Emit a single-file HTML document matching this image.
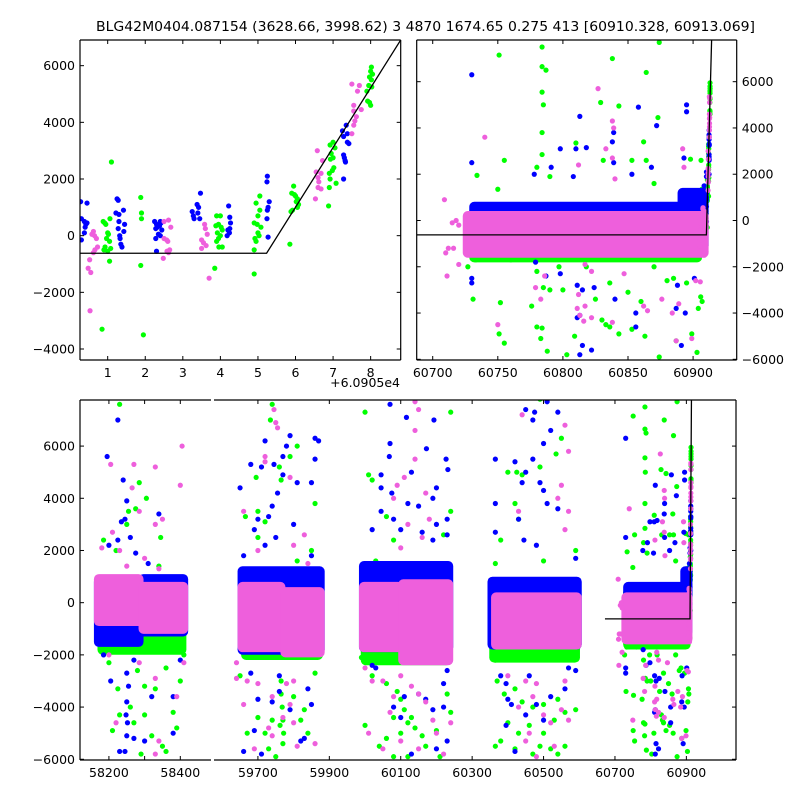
<!DOCTYPE html>
<html><head><meta charset="utf-8"><style>
html,body{margin:0;padding:0;background:#fff;}
svg{display:block;font-family:"DejaVu Sans","Liberation Sans",sans-serif;}
</style></head><body>
<svg id="chart" width="800" height="800" viewBox="0 0 800 800" xmlns="http://www.w3.org/2000/svg">
<rect width="800" height="800" fill="#fff"/>
<text x="96" y="31" font-size="13" textLength="659" lengthAdjust="spacingAndGlyphs">BLG42M0404.087154 (3628.66, 3998.62)   3 4870 1674.65 0.275 413 [60910.328, 60913.069]</text>
</svg>
<script>
// ---- data ----
var T0 = 60905;
var peakGreen = [[0.88,500],[0.92,450],[0.95,400],[1.0,100],[1.02,50],[0.97,-100],[1.05,-200],[0.93,-400],[1.08,-450],[0.9,-500],[1.0,-550],[1.05,-900],[1.06,600],[1.1,2600],[0.85,-3300],[1.88,1350],[1.9,800],[1.9,600],[1.88,-1050],[1.95,-3500],[3.9,700],[4.0,700],[3.95,400],[3.88,350],[4.05,200],[3.92,100],[4.0,0],[3.95,-100],[3.9,-200],[3.96,-400],[4.05,-400],[4.02,300],[3.85,-1150],[5.05,1400],[4.95,1150],[5.05,900],[5.0,700],[4.9,450],[4.98,400],[5.08,300],[5.0,100],[5.03,0],[4.92,-100],[4.95,-200],[4.9,-500],[4.9,-1350],[5.95,1750],[5.9,1500],[5.97,1450],[6.0,1400],[6.05,1300],[6.02,1200],[6.08,1100],[6.05,1000],[5.92,900],[5.88,850],[5.85,-300],[7.0,3300],[6.92,3200],[7.05,3100],[6.95,2900],[7.0,2750],[6.93,2700],[7.02,2400],[6.98,2300],[6.9,2200],[6.92,2000],[7.08,1850],[6.9,1700],[6.88,1050],[8.02,5950],[8.0,5800],[8.05,5700],[7.97,5600],[8.02,5500],[7.95,5300],[8.03,5250],[7.9,5100],[7.92,4750],[7.97,4700],[8.0,4600]];
var peakBlue = [[0.28,1200],[0.45,1150],[0.3,600],[0.38,500],[0.42,400],[0.4,300],[0.38,100],[0.3,-150],[0.45,450],[1.25,1300],[1.28,1250],[1.22,800],[1.3,750],[1.3,500],[1.28,250],[1.32,0],[1.33,-100],[1.35,-300],[1.38,-400],[1.42,900],[1.45,400],[1.43,150],[2.25,500],[2.3,400],[2.32,300],[2.28,250],[2.35,50],[2.28,-100],[2.3,-550],[2.4,500],[2.42,450],[2.38,350],[2.44,200],[2.4,0],[3.25,850],[3.28,700],[3.3,600],[3.38,1100],[3.42,1000],[3.4,800],[3.45,600],[3.47,1500],[4.22,1050],[4.25,650],[4.27,450],[4.25,250],[4.2,200],[4.18,0],[4.24,100],[5.25,2100],[5.24,1900],[5.3,1200],[5.27,1000],[5.25,900],[5.24,600],[5.27,-50],[7.35,3900],[7.25,3700],[7.38,3600],[7.28,3500],[7.38,3300],[7.42,3250],[7.28,2850],[7.3,2750],[7.32,2650],[7.33,2600],[7.28,2000]];
var peakPink = [[0.62,150],[0.58,50],[0.65,0],[0.7,-100],[0.73,-400],[0.66,-500],[0.62,-600],[0.52,-850],[0.48,-1150],[0.55,-1300],[0.53,-2650],[2.62,550],[2.5,500],[2.68,300],[2.5,-100],[2.57,-150],[2.6,-200],[2.65,-500],[2.58,-550],[2.62,-600],[2.48,-800],[3.58,400],[3.6,250],[3.65,50],[3.5,-150],[3.55,-250],[3.62,-350],[3.5,-450],[3.7,-1500],[6.58,3000],[6.72,2650],[6.55,2250],[6.68,2200],[6.6,2050],[6.62,1900],[6.6,1700],[6.68,1650],[6.53,1300],[7.5,5350],[7.7,5300],[7.65,5100],[7.55,4600],[7.75,4450],[7.55,4400],[7.62,4200],[7.58,4050],[7.55,3900],[7.5,3600]];

var outGreen = [[58230,7600],[58285,4600],[58255,3500],[58250,3000],[58275,3600],[58305,4000],[58185,2400],[58345,2500],[58340,1400],[58220,2000],[58200,-2300],[58280,-2600],[58300,-3200],[58330,-3300],[58260,-4000],[58230,-4300],[58300,-4300],[58270,-4600],[58210,-4900],[58320,-5100],[58290,-5800],[58350,-5500],[58360,-5700],[58380,-4200],[58390,-4800],[58400,-3000],[58360,-2500],[58225,-3300],[58410,-2000],
[59740,7600],[59735,7000],[59810,6000],[59760,5200],[59790,5600],[59695,4800],[59765,4700],[59665,3300],[59700,3500],[59860,3800],[59850,2000],[59810,1600],[59700,2500],[59720,3100],[59765,-3000],[59765,-3500],[59768,-4000],[59770,-4500],[59772,-5000],[59770,-5400],[59762,-4700],[59740,-4500],[59720,-5000],[59800,-3600],[59830,-4100],[59860,-2700],[59700,-4400],[59670,-5000],[59650,-2800],[59840,-5000],[59820,-4500],[59730,-5600],[59750,-5900],
[60000,7300],[60240,7300],[60010,4900],[60020,4700],[60060,3300],[60240,3500],[60220,2600],[60080,2400],[60030,1600],[59990,-2100],[60020,-2800],[60060,-3100],[60090,-3400],[60100,-3700],[60110,-4100],[60080,-4400],[60120,-4600],[60140,-4800],[60000,-4700],[60060,-5200],[60160,-5100],[60200,-4900],[60230,-3500],[60240,-4200],[60040,-5500],[60080,-5900],[60120,-5900],[60170,-5500],[60210,-5900],[60130,-4400],[60100,-5000],
[60490,7800],[60550,6300],[60535,5700],[60400,5000],[60425,5000],[60440,4900],[60490,5200],[60420,3800],[60430,3200],[60380,2400],[60590,2000],[60500,1600],[60365,1500],[60380,-1600],[60365,-2200],[60370,-3000],[60390,-3500],[60420,-3300],[60440,-3800],[60470,-4000],[60500,-3900],[60540,-3700],[60560,-4200],[60590,-4100],[60400,-4600],[60430,-5000],[60460,-4700],[60500,-5000],[60530,-4500],[60365,-5500],[60380,-5300],[60420,-5600],[60470,-5800],[60490,-5500],[60520,-5600],[60540,-5800],[60560,-5500],
[60751,7150],[60784,7500],[60784,6650],[60787,6500],[60838,7000],[60864,6400],[60874,7700],[60784,5550],[60785,5000],[60829,5100],[60843,4950],[60873,4450],[60784,3800],[60755,2600],[60784,2850],[60810,3350],[60831,2600],[60862,3400],[60864,2600],[60898,2650],[60734,1950],[60790,1900],[60870,1600],[60780,2300],[60853,2600],[60750,1350],[60731,-3400],[60752,-3550],[60755,-5300],[60751,-4900],[60780,-4600],[60783,-5100],[60784,-4650],[60788,-5650],[60803,-5800],[60809,-5000],[60830,-4300],[60833,-4500],[60836,-4600],[60843,-4900],[60853,-4700],[60863,-5000],[60874,-5900],[60887,-5200],[60899,-4900],[60903,-5700],[60904,-3800],[60790,-3000],[60800,-3000],[60825,-3400],[60836,-2700],[60860,-3500],[60880,-2600],[60895,-2700],[60776,-3700],[60785,-2900],[60850,-3100],[60818,-2000],[60727,-2000],[60733,-1700],[60760,-1700],[60780,-2200],[60797,-2000],[60870,-2000],[60885,-2500]];
var outBlue = [[58225,7000],[58195,5600],[58240,4700],[58250,3900],[58235,3100],[58245,3200],[58260,2500],[58225,2400],[58200,2200],[58275,1900],[58310,1500],[58340,3400],[58355,900],[58205,-3000],[58250,-2700],[58255,-3200],[58250,-3800],[58248,-4300],[58252,-4600],[58250,-5100],[58245,-5700],[58230,-5700],[58270,-5200],[58300,-5300],[58380,-5000],[58380,-3600],[58320,-3600],[58270,-2200],[58400,-2200],[58185,-2000],
[59720,6200],[59790,6400],[59780,6000],[59770,5600],[59680,5300],[59710,5200],[59745,5300],[59770,4900],[59810,4600],[59755,4200],[59740,3700],[59730,3300],[59700,3200],[59690,2800],[59750,2500],[59800,3000],[59650,4400],[59660,1800],[59720,2200],[59850,1800],[59860,6300],[59860,5500],[59850,4600],[59870,6200],[59680,-2700],[59700,-3700],[59740,-3800],[59760,-3400],[59790,-4100],[59840,-3300],[59850,-3900],[59830,-5200],[59690,-4900],[59660,-5700],[59710,-5800],[59820,-5300],[59760,-2800],
[60070,7600],[60116,7100],[60193,7000],[60070,6100],[60068,5600],[60172,5900],[60227,5500],[60232,5100],[60045,4900],[60045,4400],[60075,4200],[60130,5000],[60200,4400],[60190,4000],[60150,3700],[60120,3800],[60045,3500],[60020,2800],[60080,3200],[60230,2600],[60230,3200],[60100,2800],[60160,2700],[60190,2400],[60200,3000],[60020,-2400],[60030,-2500],[60230,-2600],[60220,-3100],[60110,-3600],[60150,-3500],[60080,-4000],[60190,-4100],[60220,-4000],[60170,-3700],[60100,-4400],[60230,-5300],[60200,-5600],[60130,-5800],
[60450,7400],[60470,7000],[60475,7300],[60510,7700],[60520,6600],[60500,6100],[60540,7300],[60365,5500],[60420,5400],[60450,5000],[60440,4600],[60470,5500],[60500,4300],[60490,4600],[60510,3800],[60365,3800],[60365,2700],[60445,2400],[60480,2200],[60540,3600],[60590,1700],[60430,3200],[60380,-2800],[60395,-3100],[60400,-3700],[60410,-3900],[60395,-4700],[60450,-4300],[60480,-3900],[60520,-3600],[60500,-4500],[60560,-3300],[60570,-2500],[60590,-2600],[60420,-5700],[60460,-2800],
[60730,6300],[60730,2500],[60813,4500],[60858,4900],[60895,5000],[60895,4700],[60872,4100],[60839,3800],[60838,3400],[60798,3100],[60810,3100],[60818,3150],[60839,2500],[60791,2300],[60893,2700],[60778,2000],[60808,1900],[60853,2000],[60868,2300],[60730,-2500],[60730,-2700],[60787,-2400],[60798,-2300],[60811,-2800],[60811,-4200],[60813,-4100],[60815,-5400],[60813,-5800],[60822,-5600],[60815,-3000],[60824,-2900],[60840,-3400],[60856,-4000],[60856,-4600],[60894,-4000],[60887,-3800],[60891,-5400],[60888,-2800],[60901,-2500],[60779,-1800]];
var outPink = [[58270,5300],[58330,5200],[58405,6000],[58400,4500],[58205,5300],[58265,4400],[58285,3500],[58330,3000],[58350,3200],[58210,2700],[58180,2100],[58300,1700],[58250,1400],[58340,1300],[58230,2000],[58200,-2000],[58220,-4600],[58330,-2900],[58330,-5800],[58340,-5300],[58390,-3600],[58285,-2300],[58410,-2300],
[59745,7400],[59750,6900],[59755,6700],[59720,5600],[59660,3500],[59720,5400],[59790,4800],[59800,2200],[59700,2000],[59830,2600],[59840,1500],[59640,-2900],[59670,-3000],[59700,-3100],[59740,-3600],[59780,-3100],[59790,-3900],[59770,-4400],[59800,-4600],[59730,-4800],[59740,-5100],[59690,-5600],[59810,-5500],[59860,-5400],[59800,-3000],[59640,-2300],[59660,-3900],
[60140,7700],[60150,7400],[60140,6600],[60140,5500],[60110,4800],[60090,4500],[60080,4000],[60120,3000],[60170,4200],[60180,3200],[60160,2500],[60100,2100],[60000,-2500],[60020,-3000],[60050,-3000],[60100,-2800],[60130,-3200],[60150,-3500],[60080,-3600],[60070,-4200],[60170,-3800],[60190,-4500],[60200,-5000],[60050,-5600],[60100,-5300],[60150,-5600],[60220,-5800],[60240,-4600],[60010,-5000],
[60440,7200],[60560,6800],[60570,5800],[60430,3500],[60550,4500],[60570,3500],[60560,2800],[60540,4000],[60400,-2800],[60450,-3000],[60480,-3100],[60470,-3600],[60430,-4000],[60500,-4300],[60520,-4600],[60550,-4100],[60570,-4500],[60460,-5000],[60530,-5500],[60480,-5900],[60450,-5300],[60560,-3000],
[60709,900],[60710,-1400],[60711,-2400],[60712,-1200],[60716,-1200],[60720,-1900],[60715,-100],[60718,0],[60720,-200],[60740,3600],[60827,5700],[60838,4300],[60839,4000],[60838,2700],[60833,3100],[60812,2400],[60840,1800],[60892,3100],[60893,2300],[60750,-4500],[60779,-2900],[60783,-3400],[60786,-2400],[60811,-3800],[60813,-4100],[60816,-4350],[60817,-3700],[60812,-3200],[60822,-4200],[60838,-4400],[60847,-2300],[60862,-3700],[60865,-3900],[60876,-3400],[60884,-4000],[60887,-5200],[60889,-3600],[60899,-5100],[60902,-2600],[60822,-2200],[60817,-1900]];

// dense cores per season: [tStart, tEnd, low, high]
var bandGreen = [[58175,58410,-1900,600],[59660,59875,-2100,900],[59995,60235,-2300,1100],[60355,60595,-2200,700],[60730,60905,-1700,500]];
var bandBlue = [[58165,58290,-1600,900],[58290,58415,-1200,1000],[59650,59880,-1900,1300],[59990,60240,-1800,1500],[60350,60600,-1700,900],[60730,60890,-1100,700],[60890,60910,-1200,1300]];
var bandPink = [[58165,58290,-800,1000],[58290,58415,-1100,700],[59650,59770,-1800,700],[59770,59880,-2000,500],[59990,60100,-1800,700],[60100,60240,-2300,800],[60360,60600,-1700,300],[60725,60910,-1500,300]];

// model: flat baseline then linear rise
var modelBase = -620, modelStart = 60910.23, modelSlope = 2108, modelFrom = 60672;

var COLORS = {green:'#00ff00', blue:'#0000ff', pink:'#ee5fdc'};

// ---- panels ----
var NS='http://www.w3.org/2000/svg';
var svg=document.getElementById('chart');
function el(tag, attrs, parent){var e=document.createElementNS(NS,tag);for(var k in attrs)e.setAttribute(k,attrs[k]);(parent||svg).appendChild(e);return e;}

var panels = [
 {name:'zoom-panel', x0:80, x1:400.7, y0:40, y1:360, vmin:-4388, vmax:6906, segs:[{px0:80,px1:400.7,t0:T0+0.263,t1:T0+8.8}],
  xt:[{seg:0,vals:[1,2,3,4,5,6,7,8],lab:[1,2,3,4,5,6,7,8],off:T0}], yt:[-4000,-2000,0,2000,4000,6000], ylabSide:'left'},
 {name:'recent-panel', x0:416.7, x1:736.7, y0:40, y1:360, vmin:-6030, vmax:7802, segs:[{px0:416.7,px1:736.7,t0:60687.7,t1:60933.5}],
  xt:[{seg:0,vals:[60700,60750,60800,60850,60900],lab:[60700,60750,60800,60850,60900],off:0}], yt:[-6000,-4000,-2000,0,2000,4000,6000], ylabSide:'right'},
 {name:'full-panel', x0:80, x1:736, y0:400, y1:760, vmin:-6028, vmax:7766, segs:[{px0:80,px1:211,t0:58119,t1:58486},{px0:214,px1:736,t0:59577,t1:61039}],
  xt:[{seg:0,vals:[58200,58300,58400],lab:[58200,'',58400],off:0},{seg:1,vals:[59700,59900,60100,60300,60500,60700,60900],lab:[59700,59900,60100,60300,60500,60700,60900],off:0}], yt:[-6000,-4000,-2000,0,2000,4000,6000], ylabSide:'left'}
];

panels.forEach(function(p, pi){
  var g = el('g',{});
  
  
  function Y(v){return p.y1-(v-p.vmin)/(p.vmax-p.vmin)*(p.y1-p.y0);}
  p.segs.forEach(function(s, si){
    function X(t){return s.px0+(t-s.t0)/(s.t1-s.t0)*(s.px1-s.px0);}
    var cid='clip'+pi+'_'+si;
    var cp=el('clipPath',{id:cid},g);
    el('rect',{x:s.px0,y:p.y0,width:s.px1-s.px0,height:p.y1-p.y0},cp);
    var mg=el('g',{'clip-path':'url(#'+cid+')'},g);
    
    
    var layers=[['green',bandGreen,peakGreen,outGreen],['blue',bandBlue,peakBlue,outBlue],['pink',bandPink,peakPink,outPink]];
    layers.forEach(function(L){
      var c=COLORS[L[0]];
      if(pi>0){
        L[1].forEach(function(b){
          var r=el('rect',{x:X(b[0])-2.5,y:Y(b[3])-2.5,width:X(b[1])-X(b[0])+5,height:Y(b[2])-Y(b[3])+5,rx:5,fill:c},mg);
          
          
        });
        L[3].forEach(function(d){
          var ci=el('circle',{cx:X(d[0]),cy:Y(d[1]),r:2.6,fill:c},mg);
          
          
        });
      }
      L[2].forEach(function(d){
        var ci=el('circle',{cx:X(T0+d[0]),cy:Y(d[1]),r:2.6,fill:c},mg);
        
        
      });
    });
    var ta=Math.max(s.t0, pi===2?modelFrom:s.t0);
    var tTop=modelStart+(p.vmax+200-modelBase)/modelSlope;
    function M(t){return t<modelStart?modelBase:modelBase+(t-modelStart)*modelSlope;}
    if(ta<s.t1){
      var te=Math.min(s.t1,tTop);
      var pts=[[ta,M(ta)]];
      if(modelStart>ta && modelStart<te) pts.push([modelStart,modelBase]);
      pts.push([te,M(te)]);
      var ln=el('polyline',{points:pts.map(function(q){return X(q[0])+','+Y(q[1]);}).join(' '),fill:'none',stroke:'#000','stroke-width':1.3},mg);
      
      
    }
    el('line',{x1:s.px0,y1:p.y0,x2:s.px1,y2:p.y0,stroke:'#000','stroke-width':1.2},g);
    el('line',{x1:s.px0,y1:p.y1,x2:s.px1,y2:p.y1,stroke:'#000','stroke-width':1.2},g);
  });
  el('line',{x1:p.x0,y1:p.y0,x2:p.x0,y2:p.y1,stroke:'#000','stroke-width':1.2},g);
  el('line',{x1:p.x1,y1:p.y0,x2:p.x1,y2:p.y1,stroke:'#000','stroke-width':1.2},g);
  p.xt.forEach(function(xt){
    var s=p.segs[xt.seg];
    xt.vals.forEach(function(v,i){
      var x=s.px0+(v+xt.off-s.t0)/(s.t1-s.t0)*(s.px1-s.px0);
      el('line',{x1:x,y1:p.y1,x2:x,y2:p.y1-4,stroke:'#000'},g);
      el('line',{x1:x,y1:p.y0,x2:x,y2:p.y0+4,stroke:'#000'},g);
      if(xt.lab[i]!==''){
        var t=el('text',{x:x,y:p.y1+17,'font-size':12.5,'text-anchor':'middle'},g);
        t.textContent=xt.lab[i];
        
        
      }
    });
  });
  p.yt.forEach(function(v){
    var y=Y(v);
    el('line',{x1:p.x0,y1:y,x2:p.x0+4,y2:y,stroke:'#000'},g);
    el('line',{x1:p.x1,y1:y,x2:p.x1-4,y2:y,stroke:'#000'},g);
    var left=p.ylabSide==='left';
    var t=el('text',{x:left?p.x0-5:p.x1+5,y:y+4.5,'font-size':12.5,'text-anchor':left?'end':'start'},g);
    t.textContent=v<0?'\u2212'+(-v):String(v);
    
    
  });
});
var off=el('text',{x:400,y:387,'font-size':12.5,'text-anchor':'end'});
off.textContent='+6.0905e4';


</script>
</body></html>
